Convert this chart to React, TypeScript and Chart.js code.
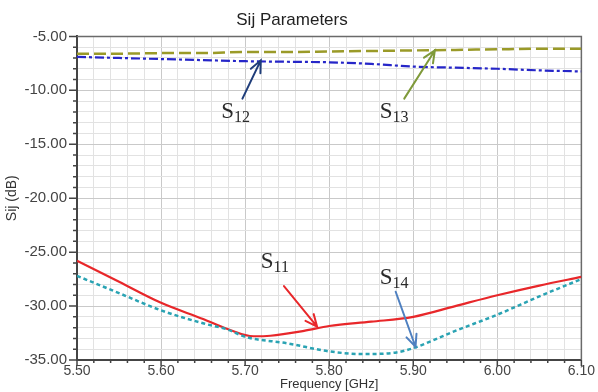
import React, { useEffect, useRef } from "react";
import { Chart, registerables } from "chart.js";
Chart.register(...registerables);

const freqs = [5.5, 5.55, 5.6, 5.65, 5.7, 5.75, 5.8, 5.85, 5.9, 5.95, 6.0, 6.05, 6.1];
const s12 = [-6.9, -7.0, -7.1, -7.2, -7.3, -7.35, -7.4, -7.55, -7.8, -7.9, -8.0, -8.15, -8.25];
const s13 = [-6.6, -6.6, -6.55, -6.55, -6.45, -6.45, -6.4, -6.35, -6.3, -6.25, -6.2, -6.15, -6.15];

const freqs11 = [5.5, 5.55, 5.6, 5.65, 5.68, 5.71, 5.73, 5.77, 5.8, 5.85, 5.9, 5.95, 6.0, 6.05, 6.1];
const s11 = [-25.8, -27.75, -29.7, -31.2, -32.15, -32.8, -32.75, -32.3, -31.85, -31.45, -31.0, -30.0, -29.0, -28.1, -27.3];
const freqs14 = [5.5, 5.55, 5.6, 5.65, 5.68, 5.7, 5.75, 5.8, 5.84, 5.88, 5.9, 5.95, 6.0, 6.05, 6.1];
const s14 = [-27.2, -28.8, -30.4, -31.6, -32.2, -32.85, -33.45, -34.2, -34.45, -34.3, -33.9, -32.3, -30.8, -29.1, -27.5];

const xMin = 5.5;
const xMax = 6.1;
const yMin = -35;
const yMax = -5;

// annotation labels: label anchor (left, baseline) and arrow tail/head in data units
const annLabels = ["S", "S", "S", "S"];
const annSubs = ["12", "13", "11", "14"];
const annLabelX = [5.6716, 5.8601, 5.7186, 5.8601];
const annLabelY = [-12.6, -12.55, -26.5, -27.95];
const annTail = [[5.6968, -10.77], [5.8893, -10.77], [5.7462, -28.15], [5.8791, -28.67]];
const annHead = [[5.7186, -7.22], [5.9257, -6.3], [5.7856, -31.91], [5.9027, -33.77]];
const annColors = ["#1f3d7a", "#7f9a3a", "#e8272a", "#4f80c0"];

const isMajorX = (v: number) => Math.round(v * 100) % 10 === 0;
const isMajorY = (v: number) => Math.round(v) % 5 === 0;

const decorPlugin = {
  id: "decor",
  beforeDatasetsDraw(chart: any) {
    const { ctx, chartArea, scales } = chart;
    const x = scales.x;
    const y = scales.y;
    ctx.save();
    ctx.strokeStyle = "#6a6a6a";
    ctx.lineWidth = 1.5;
    ctx.beginPath();
    ctx.moveTo(chartArea.left, chartArea.top);
    ctx.lineTo(chartArea.right, chartArea.top);
    ctx.lineTo(chartArea.right, chartArea.bottom);
    ctx.stroke();
    ctx.strokeStyle = "#444";
    ctx.lineWidth = 1.5;
    ctx.beginPath();
    y.ticks.forEach((t: any) => {
      const py = y.getPixelForValue(t.value);
      const len = isMajorY(t.value) ? 8 : 4;
      ctx.moveTo(chartArea.left - len, py);
      ctx.lineTo(chartArea.left, py);
    });
    x.ticks.forEach((t: any) => {
      const px = x.getPixelForValue(t.value);
      const len = isMajorX(t.value) ? 6 : 3;
      ctx.moveTo(px, chartArea.bottom);
      ctx.lineTo(px, chartArea.bottom + len);
    });
    ctx.stroke();
    ctx.restore();
  },
  afterDatasetsDraw(chart: any) {
    const { ctx, scales } = chart;
    const x = scales.x;
    const y = scales.y;
    ctx.save();
    for (let i = 0; i < annLabels.length; i++) {
      const tx = x.getPixelForValue(annTail[i][0]);
      const ty = y.getPixelForValue(annTail[i][1]);
      const hx = x.getPixelForValue(annHead[i][0]);
      const hy = y.getPixelForValue(annHead[i][1]);
      ctx.strokeStyle = annColors[i];
      ctx.lineWidth = 2;
      ctx.lineCap = "round";
      ctx.beginPath();
      ctx.moveTo(tx, ty);
      ctx.lineTo(hx, hy);
      const ang = Math.atan2(hy - ty, hx - tx);
      const al = 13;
      const spread = 0.42;
      ctx.moveTo(hx - al * Math.cos(ang - spread), hy - al * Math.sin(ang - spread));
      ctx.lineTo(hx, hy);
      ctx.lineTo(hx - al * Math.cos(ang + spread), hy - al * Math.sin(ang + spread));
      ctx.stroke();

      const lx = x.getPixelForValue(annLabelX[i]);
      const ly = y.getPixelForValue(annLabelY[i]);
      ctx.fillStyle = "#2a2a2a";
      ctx.textBaseline = "alphabetic";
      ctx.textAlign = "left";
      ctx.font = "23px 'Liberation Serif', serif";
      ctx.fillText(annLabels[i], lx, ly);
      const w = ctx.measureText(annLabels[i]).width;
      ctx.font = "16px 'Liberation Serif', serif";
      ctx.fillText(annSubs[i], lx + w, ly + 4);
    }
    ctx.restore();
  },
};

export default function App() {
  const ref = useRef<HTMLCanvasElement | null>(null);
  useEffect(() => {
    document.body.style.margin = "0";
    const canvas = ref.current;
    if (!canvas) return;
    const mk = (xs: number[], arr: number[]) => xs.map((f, i) => ({ x: f, y: arr[i] }));
    const chart = new Chart(canvas, {
      type: "line",
      data: {
        datasets: [
          { label: "S13", data: mk(freqs, s13), borderColor: "#9a9a28", borderWidth: 2.5, borderDash: [12, 5], pointRadius: 0, cubicInterpolationMode: "monotone" },
          { label: "S12", data: mk(freqs, s12), borderColor: "#2626c8", borderWidth: 2.2, borderDash: [9, 3, 3, 3], pointRadius: 0, cubicInterpolationMode: "monotone" },
          { label: "S14", data: mk(freqs14, s14), borderColor: "#2aa3b3", borderWidth: 2.5, borderDash: [4, 3], pointRadius: 0, cubicInterpolationMode: "monotone" },
          { label: "S11", data: mk(freqs11, s11), borderColor: "#e8272a", borderWidth: 2.2, pointRadius: 0, cubicInterpolationMode: "monotone" },
        ],
      },
      options: {
        responsive: false,
        animation: false,
        layout: { padding: { left: 0, right: 14, top: 0, bottom: 0 } },
        plugins: {
          legend: { display: false },
          tooltip: { enabled: false },
          title: {
            display: true,
            text: "Sij Parameters",
            color: "#222",
            font: { family: "'Liberation Sans', Arial, sans-serif", size: 17, weight: "normal" },
            padding: { top: 10, bottom: 6 },
          },
        },
        scales: {
          x: {
            type: "linear",
            min: xMin,
            max: xMax,
            afterFit: (s: any) => { s.height = 32; },
            ticks: {
              stepSize: 0.02,
              autoSkip: false,
              maxRotation: 0,
              padding: 3,
              color: "#444",
              font: { family: "'Liberation Sans', Arial, sans-serif", size: 14 },
              callback: (v: any) => (isMajorX(Number(v)) ? Number(v).toFixed(2) : ""),
            },
            grid: {
              drawTicks: false,
              color: (c: any) => (c.tick && isMajorX(c.tick.value) ? "#c9c9c9" : "#e2e2e2"),
              lineWidth: 1,
            },
            border: { color: "#444", width: 2 },
            title: {
              display: true,
              text: "Frequency [GHz]",
              color: "#333",
              font: { family: "'Liberation Sans', Arial, sans-serif", size: 13 },
              padding: { top: 0, bottom: 0 },
            },
          },
          y: {
            type: "linear",
            min: yMin,
            max: yMax,
            afterFit: (s: any) => { s.width = 77; },
            ticks: {
              stepSize: 1,
              autoSkip: false,
              padding: 10,
              color: "#444",
              font: { family: "'Liberation Sans', Arial, sans-serif", size: 15 },
              callback: (v: any) => (isMajorY(Number(v)) ? Number(v).toFixed(2) : ""),
            },
            grid: {
              drawTicks: false,
              color: (c: any) => (c.tick && isMajorY(c.tick.value) ? "#c9c9c9" : "#e2e2e2"),
              lineWidth: 1,
            },
            border: { color: "#444", width: 2 },
            title: {
              display: true,
              text: "Sij (dB)",
              color: "#333",
              font: { family: "'Liberation Sans', Arial, sans-serif", size: 14 },
              padding: { top: 4, bottom: 0 },
            },
          },
        },
      },
      plugins: [decorPlugin],
    } as any);
    return () => chart.destroy();
  }, []);
  return (
    <div style={{ width: 598, height: 392 }}>
      <canvas ref={ref} width={598} height={392} />
    </div>
  );
}
